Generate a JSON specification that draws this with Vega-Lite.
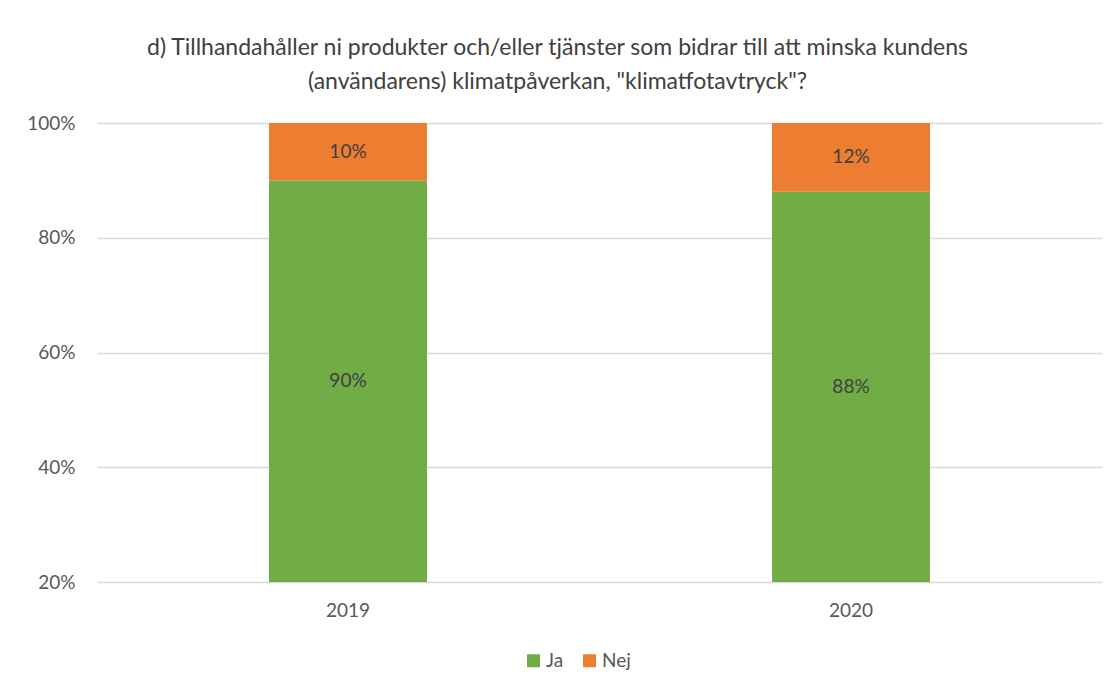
{
  "$schema": "https://vega.github.io/schema/vega-lite/v6.json",
  "autosize": "none",
  "padding": {"left": 97, "top": 123, "right": 13, "bottom": 106},
  "width": 1005,
  "height": 459,
  "background": "white",
  "config": {"view": {"stroke": null}, "font": "Lato"},
  "title": {
    "text": ["d) Tillhandahåller ni produkter och/eller tjänster som bidrar till att minska kundens", "(användarens) klimatpåverkan, \"klimatfotavtryck\"?"],
    "anchor": "middle",
    "frame": "group",
    "dx": -42,
    "font": "Lato",
    "fontSize": 23,
    "fontWeight": "normal",
    "color": "#404040",
    "lineHeight": 34,
    "offset": 20
  },
  "data": {
    "values": [
      {"year": "2019", "answer": "Ja", "share": 0.90},
      {"year": "2019", "answer": "Nej", "share": 0.10},
      {"year": "2020", "answer": "Ja", "share": 0.88},
      {"year": "2020", "answer": "Nej", "share": 0.12}
    ]
  },
  "transform": [
    {"calculate": "datum.answer === 'Ja' ? 0 : 1", "as": "ord"},
    {"stack": "share", "groupby": ["year"], "sort": [{"field": "ord", "order": "ascending"}], "as": ["s0", "s1"]},
    {"calculate": "(max(datum.s0, 0.2) + datum.s1) / 2", "as": "mid"}
  ],
  "encoding": {
    "x": {
      "field": "year", "type": "nominal",
      "scale": {"paddingInner": 0.686, "paddingOuter": 0.342},
      "axis": {"title": null, "labelAngle": 0, "domain": false, "ticks": false, "labelFontSize": 19, "labelColor": "#595959", "labelPadding": 19, "labelFont": "Lato"}
    }
  },
  "layer": [
    {
      "mark": {"type": "bar", "clip": true},
      "encoding": {
        "y": {
          "field": "s0", "type": "quantitative",
          "scale": {"domain": [0.2, 1]},
          "axis": {"title": null, "format": ".0%", "values": [0.2, 0.4, 0.6, 0.8, 1.0], "domain": false, "ticks": false, "gridColor": "#D9D9D9", "gridWidth": 1.3, "labelFontSize": 19, "labelColor": "#595959", "labelPadding": 22, "labelFont": "Lato"}
        },
        "y2": {"field": "s1"},
        "color": {
          "field": "answer", "type": "nominal",
          "scale": {"domain": ["Ja", "Nej"], "range": ["#70AD47", "#ED7D31"]},
          "legend": {
            "title": null, "orient": "none", "direction": "horizontal",
            "legendX": 427, "legendY": 528,
            "symbolType": "square", "symbolSize": 169, "symbolStrokeWidth": 0,
            "labelFontSize": 19, "labelColor": "#595959", "labelFont": "Lato",
            "columnPadding": 16, "labelOffset": 3
          }
        }
      }
    },
    {
      "mark": {"type": "text", "fontSize": 19, "color": "#404040", "font": "Lato"},
      "encoding": {
        "y": {"field": "mid", "type": "quantitative"},
        "text": {"field": "share", "type": "quantitative", "format": ".0%"}
      }
    }
  ]
}
